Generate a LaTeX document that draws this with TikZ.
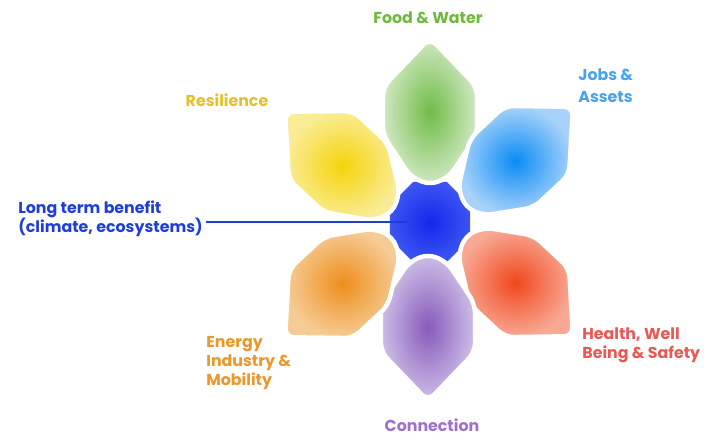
\documentclass[tikz,border=0pt]{standalone}
\usepackage{fontspec}
\setmainfont{Poppins}
\usetikzlibrary{positioning,shapes.geometric}

% petal colours: saturated middle, pale rim
\definecolor{foodin}{RGB}{112,188,72}
\definecolor{foodout}{RGB}{208,232,194}
\definecolor{jobsin}{RGB}{10,140,245}
\definecolor{jobsout}{RGB}{168,210,250}
\definecolor{healthin}{RGB}{240,72,30}
\definecolor{healthout}{RGB}{248,168,148}
\definecolor{linkin}{RGB}{135,90,188}
\definecolor{linkout}{RGB}{205,190,230}
\definecolor{energyin}{RGB}{238,142,28}
\definecolor{energyout}{RGB}{246,204,150}
\definecolor{resilin}{RGB}{245,212,10}
\definecolor{resilout}{RGB}{250,236,150}
\definecolor{corein}{RGB}{18,40,236}
\definecolor{coreout}{RGB}{60,84,242}
% label colours
\definecolor{foodtxt}{RGB}{110,186,60}
\definecolor{jobstxt}{RGB}{72,162,236}
\definecolor{healthtxt}{RGB}{232,88,84}
\definecolor{linktxt}{RGB}{158,112,204}
\definecolor{energytxt}{RGB}{236,150,44}
\definecolor{resiltxt}{RGB}{226,194,40}
\definecolor{benefittxt}{RGB}{30,62,218}

\begin{document}
\begin{tikzpicture}[
  x=0.02cm, y=-0.02cm,
  lbl/.style={font=\bfseries\fontsize{9}{10.8}\selectfont,inner sep=2pt,align=left},
  core/.style={regular polygon,regular polygon sides=8,minimum size=1.74cm,
    inner color=corein,outer color=coreout},
  petal/.pic={
    \path[draw=white,line width=2.5pt,rounded corners=5pt,
      inner color=#1in,outer color=#1out]
      (75,0) -- (26,47) -- (-22,47) -- (-64,19) -- (-72,0)
      -- (-64,-19) -- (-22,-47) -- (26,-47) -- cycle;
  }
]
\useasboundingbox (0,0) rectangle (710,436);

% heart of the flower
\node[core] (core) at (430,222) {};

% the six petals
\pic[rotate=90] at (430,113) {petal=food};
\pic[rotate=43] at (518,158) {petal=jobs};
\pic[rotate=-43] at (518,285) {petal=health};
\pic[rotate=-90] at (428,326) {petal=link};
\pic[rotate=-137] at (340,286) {petal=energy};
\pic[rotate=137] at (340,163) {petal=resil};

% labels
\node[lbl,text=foodtxt] (food) at (428,18) {Food \& Water};
\node[lbl,text=jobstxt,anchor=west] (jobs) at (574.5,86) {Jobs \&\\[1.5pt]Assets};
\node[lbl,text=healthtxt,anchor=west] (health) at (578.5,345) {Health, Well\\Being \& Safety};
\node[lbl,text=linktxt] (link) at (432,425) {Connection};
\node[lbl,text=energytxt,anchor=west] (energy) at (202.5,363) {Energy\\Industry \&\\Mobility};
\node[lbl,text=resiltxt] (resil) at (227,100) {Resilience};
\node[lbl,text=benefittxt,anchor=west] (benefit) at (14.5,219) {Long term benefit\\(climate, ecosystems)};

\draw[benefittxt,line width=1pt] (benefit.east |- core.center) -- ([xshift=-0.46cm]core.center);

\end{tikzpicture}
\end{document}
